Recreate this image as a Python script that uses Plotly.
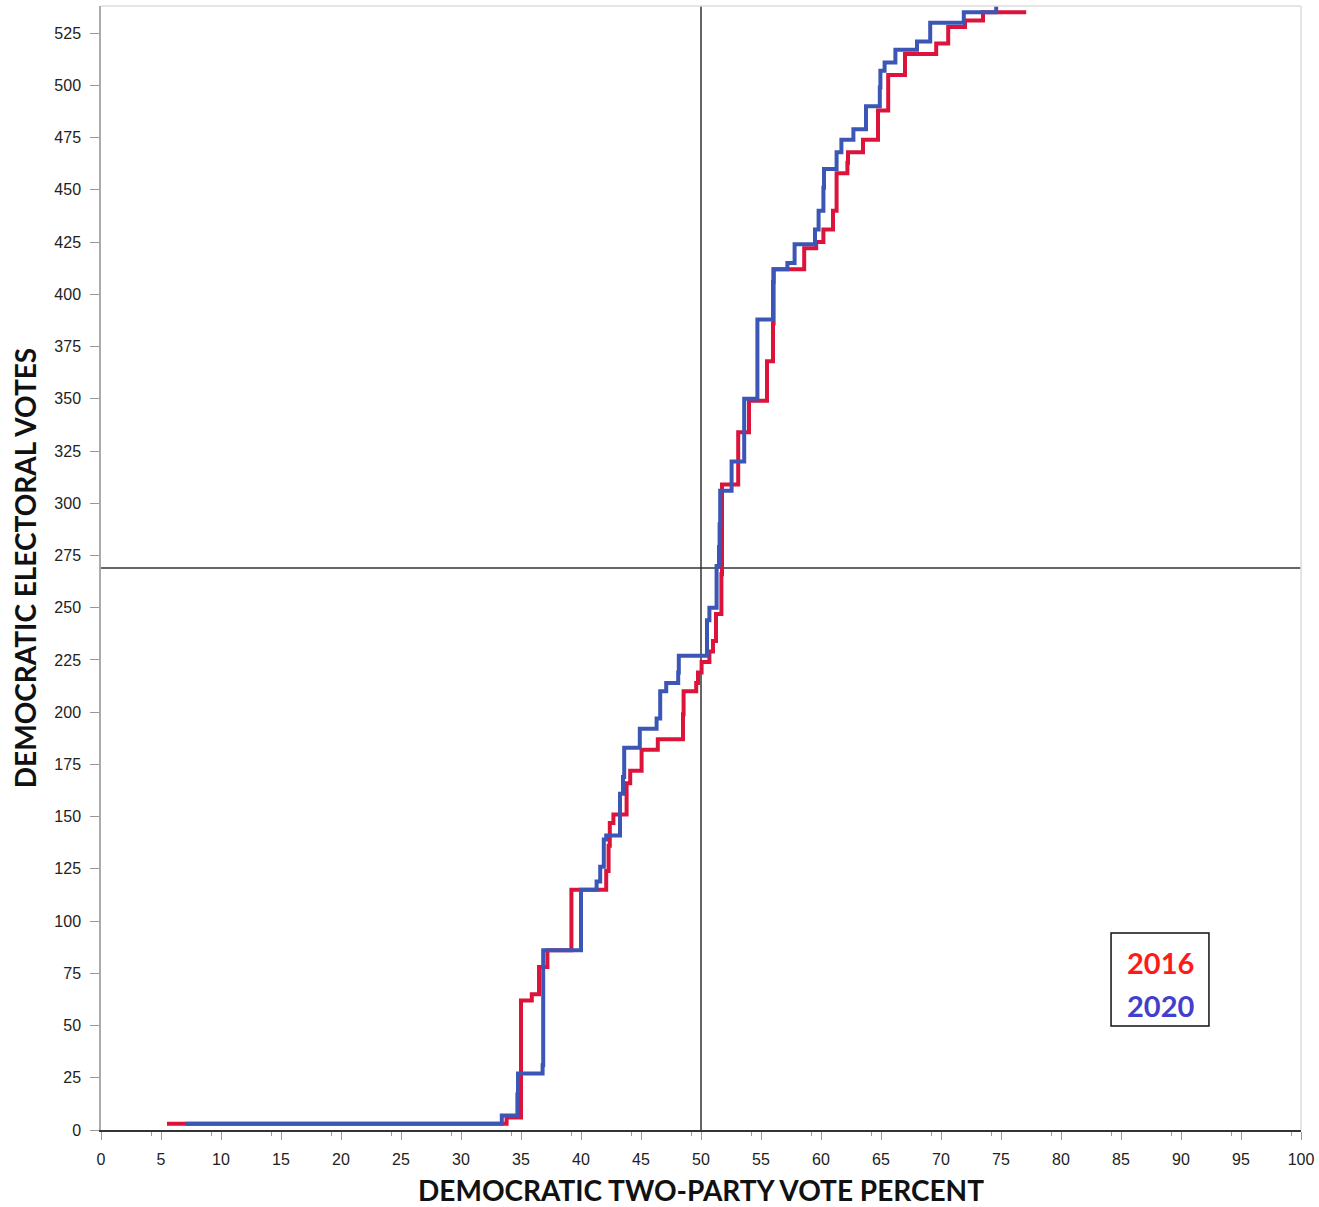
import plotly.graph_objects as go

# Cumulative Democratic electoral votes, states ordered by Democratic two-party vote share.
# Each pair is (vote percent where the step occurs, cumulative electoral votes after it).
x_2016 = [5.5, 33.8, 35.0, 35.9, 36.5, 37.2, 39.2, 42.1, 42.3, 42.4, 42.7, 43.8, 44.1,
          45.05, 46.4, 48.5, 48.55, 49.6, 49.75, 50.05, 50.7, 51.0, 51.25, 51.7, 51.75,
          53.1, 54.0, 55.5, 56.0, 56.05, 58.6, 59.6, 60.2, 61.0, 61.3, 62.2, 62.25, 63.5,
          64.75, 65.6, 67.0, 69.6, 70.6, 72.0, 73.5, 77.1]
ev_2016 = [3, 6, 62, 65, 78, 86, 115, 124, 136, 147, 151, 166, 172,
           182, 187, 199, 210, 214, 219, 224, 229, 234, 247, 266, 309,
           334, 349, 368, 386, 412, 422, 425, 431, 440, 458, 463, 468, 474,
           488, 505, 515, 520, 528, 531, 535, 535]

x_2020 = [7.0, 33.4, 34.7, 34.75, 36.8, 36.85, 40.0, 41.3, 41.6, 41.9, 42.1, 43.25, 43.5,
          43.6, 44.9, 46.3, 46.6, 47.1, 48.1, 48.15, 50.5, 50.7, 51.3, 51.5, 51.55, 51.6,
          52.55, 53.6, 54.7, 56.0, 56.05, 57.2, 57.8, 59.5, 59.8, 60.2, 60.25, 61.3, 61.7,
          62.7, 63.75, 64.9, 64.95, 65.3, 66.2, 68.0, 69.1, 71.9, 74.6]
ev_2020 = [3, 7, 17, 27, 31, 86, 115, 119, 126, 139, 141, 161, 169,
           183, 192, 197, 210, 214, 219, 227, 244, 250, 270, 279, 290, 306,
           320, 350, 388, 406, 412, 415, 424, 431, 440, 451, 460, 468, 474,
           479, 490, 499, 507, 511, 517, 521, 530, 535, 538]

x_ticks = list(range(0, 101, 5))
y_ticks = list(range(0, 526, 25))
majority = 269

RED = "#dc143c"
BLUE = "#3b56b5"

fig = go.Figure()
fig.add_trace(go.Scatter(x=x_2016, y=ev_2016, mode="lines", line_shape="hv",
                         line=dict(color=RED, width=4), name="2016"))
fig.add_trace(go.Scatter(x=x_2020, y=ev_2020, mode="lines", line_shape="hv",
                         line=dict(color=BLUE, width=4), name="2020"))

# 50% vote and 269-vote reference lines
fig.add_shape(type="line", x0=50, x1=50, y0=0, y1=538, xref="x", yref="y",
              line=dict(color="#333333", width=1.5), layer="below")
fig.add_shape(type="line", x0=0, x1=100, y0=majority, y1=majority, xref="x", yref="y",
              line=dict(color="#333333", width=1.5), layer="below")

# light frame on the top and right edges
fig.add_shape(type="line", x0=0, x1=1, y0=1, y1=1, xref="paper", yref="paper",
              line=dict(color="#dddddd", width=1.5))
fig.add_shape(type="line", x0=1, x1=1, y0=0, y1=1, xref="paper", yref="paper",
              line=dict(color="#dddddd", width=1.5))

# legend box
fig.add_shape(type="rect", x0=0.8417, x1=0.9233, y0=0.0925, y1=0.1753,
              xref="paper", yref="paper", line=dict(color="#111111", width=1.5),
              fillcolor="white")
fig.add_annotation(x=0.8825, y=0.1486, xref="paper", yref="paper", text="<b>2016</b>",
                   xanchor="center", yanchor="middle", showarrow=False,
                   font=dict(family="Lato", size=29, color="#ff1a1a"))
fig.add_annotation(x=0.8825, y=0.1112, xref="paper", yref="paper", text="<b>2020</b>",
                   xanchor="center", yanchor="middle", showarrow=False,
                   font=dict(family="Lato", size=29, color="#4040cc"))

tick_font = dict(family="Liberation Sans", size=16, color="#222222")
title_font = dict(family="Lato", size=28, color="#111111", weight="bold")

fig.update_xaxes(range=[0, 100], tickvals=x_ticks, ticktext=[str(v) for v in x_ticks],
                 showgrid=False, zeroline=False, showline=True, linecolor="#333333",
                 linewidth=1.5, ticks="outside", ticklen=8, tickcolor="#999999",
                 tickfont=tick_font, ticklabelstandoff=6,
                 minor=dict(tick0=4.2, dtick=5, ticks="outside", ticklen=4,
                            tickcolor="#999999", showgrid=False),
                 title=dict(text="DEMOCRATIC TWO-PARTY VOTE PERCENT", font=title_font,
                            standoff=14))
fig.update_yaxes(range=[0, 538], tickvals=y_ticks, ticktext=[str(v) for v in y_ticks],
                 showgrid=False, zeroline=False, showline=True, linecolor="#aaaaaa",
                 linewidth=1.5, ticks="outside", ticklen=9, tickcolor="#999999",
                 tickfont=tick_font, ticklabelstandoff=6,
                 title=dict(text="DEMOCRATIC ELECTORAL VOTES", font=title_font,
                            standoff=10))

fig.update_layout(width=1319, height=1207, margin=dict(l=101, r=18, t=6, b=77),
                  plot_bgcolor="white", paper_bgcolor="white", showlegend=False)

fig.write_html("out.html")
